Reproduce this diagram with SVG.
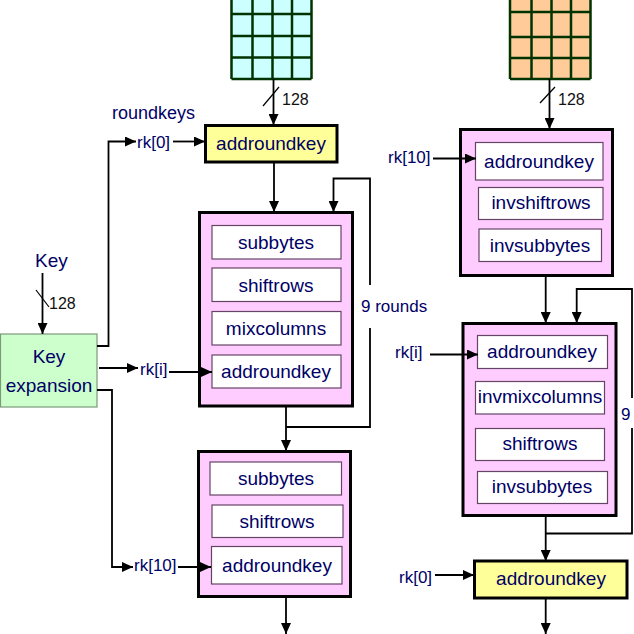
<svg xmlns="http://www.w3.org/2000/svg" width="634" height="634" viewBox="0 0 634 634">
<defs>
<marker id="ah" markerUnits="userSpaceOnUse" markerWidth="11" markerHeight="10" refX="11" refY="5" orient="auto">
<path d="M0,0 L11,5 L0,10 z" fill="#000"/>
</marker>
<style>
text{font-family:"Liberation Sans",Arial,sans-serif;fill:#000066}
.box{font-size:19px;text-anchor:middle}
.lbl{font-size:17px}
.num{font-size:16px;fill:#111}
.grid{stroke:#003300;stroke-width:2.5}
.outer{fill:#ffccff;stroke:#000;stroke-width:3}
.yel{fill:#ffff99;stroke:#000;stroke-width:3}
.inner{fill:#fff;stroke:#664466;stroke-width:1.2}
.con{fill:none;stroke:#000;stroke-width:1.8}
.arr{fill:none;stroke:#000;stroke-width:1.8;marker-end:url(#ah)}
.sl{stroke:#000;stroke-width:1.2}
</style>
</defs>
<rect width="634" height="634" fill="#fff"/>

<g id="plaintext-grid">
<rect x="231" y="-8" width="80.5" height="87" fill="#ccffff"/>
<path class="grid" d="M231.5,-8V79M252.5,-8V79M272.5,-8V79M292,-8V79M311.5,-8V79M231.5,14H311.5M231.5,36H311.5M231.5,57.5H311.5M231.5,79H311.5"/>
</g>
<g id="ciphertext-grid">
<rect x="509.5" y="-8" width="81" height="87" fill="#ffcc99"/>
<path class="grid" d="M510,-8V79M531.5,-8V79M551.5,-8V79M571,-8V79M590.5,-8V79M510,12H590.5M510,37H590.5M510,58H590.5M510,79H590.5"/>
</g>

<g id="key-label">
<text class="lbl" x="35" y="267" style="font-size:19px">Key</text>
</g>
<g id="key-expansion">
<rect x="0.5" y="334" width="96.5" height="73" fill="#ccffcc" stroke="#7a9a7a" stroke-width="1.2"/>
<text class="box" x="49" y="363">Key</text>
<text class="box" x="49" y="392">expansion</text>
</g>
<g id="roundkeys-label">
<text class="lbl" x="112" y="119" style="font-size:18px">roundkeys</text>
</g>

<g id="enc-initial-addroundkey">
<rect class="yel" x="205.5" y="125.5" width="131.5" height="36.5"/>
<text class="box" x="271" y="150">addroundkey</text>
</g>

<g id="enc-round">
<rect class="outer" x="199.5" y="212.5" width="153" height="193.5"/>
<rect class="inner" x="212" y="225.5" width="129" height="33.5"/>
<text class="box" x="276" y="249">subbytes</text>
<rect class="inner" x="212" y="268" width="129" height="33.5"/>
<text class="box" x="276" y="292">shiftrows</text>
<rect class="inner" x="212" y="311.5" width="129" height="33.5"/>
<text class="box" x="276" y="335">mixcolumns</text>
<rect class="inner" x="212" y="355" width="129" height="33"/>
<text class="box" x="276" y="378">addroundkey</text>
</g>

<g id="enc-final-round">
<rect class="outer" x="198.5" y="451.5" width="152" height="145"/>
<rect class="inner" x="210" y="462" width="131.5" height="33"/>
<text class="box" x="276" y="485">subbytes</text>
<rect class="inner" x="212" y="505" width="131" height="32.5"/>
<text class="box" x="277" y="528">shiftrows</text>
<rect class="inner" x="211.5" y="546.5" width="130.5" height="37.5"/>
<text class="box" x="277" y="572">addroundkey</text>
</g>

<g id="dec-first-round">
<rect class="outer" x="460.5" y="129.5" width="152" height="146"/>
<rect class="inner" x="475.5" y="142.5" width="127.5" height="37.5"/>
<text class="box" x="539" y="168">addroundkey</text>
<rect class="inner" x="478.5" y="187.5" width="124.5" height="32"/>
<text class="box" x="541" y="209">invshiftrows</text>
<rect class="inner" x="479" y="229" width="122.5" height="32.5"/>
<text class="box" x="540" y="252">invsubbytes</text>
</g>

<g id="dec-round">
<rect class="outer" x="463" y="323.5" width="153" height="192"/>
<rect class="inner" x="477.5" y="335.5" width="130" height="33"/>
<text class="box" x="542" y="358">addroundkey</text>
<rect class="inner" x="475.5" y="381.5" width="129" height="32.5"/>
<text class="box" x="540" y="403">invmixcolumns</text>
<rect class="inner" x="475.5" y="428.5" width="129" height="32"/>
<text class="box" x="540" y="450">shiftrows</text>
<rect class="inner" x="477.5" y="471.5" width="130" height="32"/>
<text class="box" x="542" y="493">invsubbytes</text>
</g>

<g id="dec-final-addroundkey">
<rect class="yel" x="474.5" y="561" width="152.5" height="37"/>
<text class="box" x="551" y="585">addroundkey</text>
</g>

<g id="connectors">
<line class="arr" x1="273.5" y1="79" x2="273.5" y2="125"/>
<line class="sl" x1="263" y1="106" x2="279" y2="87"/>
<text class="num" x="282" y="105">128</text>
<line class="arr" x1="274" y1="162" x2="274" y2="212"/>
<path class="con" d="M286,427H370V328"/>
<path class="arr" d="M370,285V178.5H333.5V212"/>
<text class="lbl" x="361" y="312">9 rounds</text>
<line class="arr" x1="286" y1="406" x2="286" y2="451"/>
<line class="arr" x1="286" y1="597" x2="286" y2="634"/>

<line class="arr" x1="42.5" y1="273" x2="42.5" y2="334"/>
<line class="sl" x1="36" y1="290" x2="49" y2="307"/>
<text class="num" x="49" y="309">128</text>
<path class="arr" d="M97,346H108.5V141.5H136"/>
<text class="lbl" x="137" y="148">rk[0]</text>
<line class="arr" x1="173" y1="141.5" x2="205" y2="141.5"/>
<line class="arr" x1="99" y1="368" x2="138" y2="368"/>
<text class="lbl" x="140" y="375">rk[i]</text>
<line class="arr" x1="169" y1="372" x2="212" y2="372"/>
<path class="arr" d="M97,390H112V567H133"/>
<text class="lbl" x="134" y="571">rk[10]</text>
<line class="arr" x1="178" y1="567" x2="211" y2="567"/>

<line class="arr" x1="549.5" y1="79" x2="549.5" y2="129"/>
<line class="sl" x1="540" y1="103" x2="555" y2="87"/>
<text class="num" x="558" y="105">128</text>
<text class="lbl" x="388" y="163">rk[10]</text>
<line class="arr" x1="433" y1="158.5" x2="476" y2="158.5"/>
<line class="arr" x1="545.7" y1="276" x2="545.7" y2="323"/>
<path class="con" d="M545.7,533.5H632V428"/>
<path class="arr" d="M632,398V289H576.7V323"/>
<text class="lbl" x="621" y="420">9</text>
<text class="lbl" x="395" y="358">rk[i]</text>
<line class="arr" x1="430" y1="354.5" x2="478" y2="354.5"/>
<line class="arr" x1="545.7" y1="516" x2="545.7" y2="561"/>
<text class="lbl" x="399" y="583">rk[0]</text>
<line class="arr" x1="435" y1="575" x2="474" y2="575"/>
<line class="arr" x1="545.7" y1="598" x2="545.7" y2="634"/>
</g>
</svg>
